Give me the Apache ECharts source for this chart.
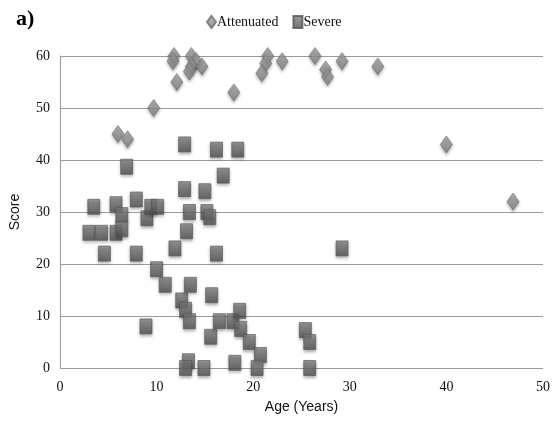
<!DOCTYPE html>
<html><head><meta charset="utf-8">
<script src="https://cdn.jsdelivr.net/npm/echarts@6/dist/echarts.min.js"></script>
<style>html,body{margin:0;padding:0;background:#fff}#c{width:557px;height:431px}</style>
</head><body><div id="c"></div>
<script>
const attenuatedAge   = [6.0,7.0,9.7,11.8,11.7,12.1,13.6,14.1,13.6,13.4,14.7,18.0,21.5,21.3,20.9,23.0,26.4,27.5,27.7,29.2,32.9,40.0,46.9];
const attenuatedScore = [45,44,50,60,59,55,60,59,58,57,58,53,60,58.6,56.7,59,60,57.4,56,59,58,43,32];
const severeAge   = [3.0,3.5,4.3,4.6,5.8,5.8,6.4,6.4,6.9,7.9,7.9,9.0,9.4,10.1,8.9,10.0,10.9,11.9,12.6,12.9,12.9,13.1,13.4,13.0,13.5,13.4,13.3,13.0,14.9,15.0,15.2,15.5,15.6,15.7,16.2,16.2,16.5,16.9,17.9,18.4,18.6,18.7,18.1,19.6,20.75,20.4,25.4,25.85,25.85,29.2];
const severeScore = [26,31,26,22,26,31.5,29.4,26.7,38.7,32.4,22,28.8,31,31,8,19,16,23,13,43,34.4,26.3,30,11.2,16,9,1.3,0,0,34,30,29,6,14,42,22,9,37,9,42,11,7.5,1,5,2.5,0,7.3,5,0,23];
const xTicks = [0,10,20,30,40,50];
const yTicks = [0,10,20,30,40,50,60];

const chart = echarts.init(document.getElementById('c'), null, {renderer:'canvas'});
const serif = "'Liberation Serif', 'DejaVu Serif', serif";
const sans = "'Liberation Sans Narrow', 'Liberation Sans', 'Open Sans', sans-serif";
const diamondFill = new echarts.graphic.LinearGradient(0,0,0,1,[{offset:0,color:'#a8a8a8'},{offset:1,color:'#7c7c7c'}]);
const squareFill = new echarts.graphic.LinearGradient(0,0,0,1,[{offset:0,color:'#858585'},{offset:1,color:'#4e4e4e'}]);
chart.setOption({
  animation:false,
  backgroundColor:'#fff',
  title:{text:'a)', left:11, top:3, textStyle:{fontFamily:serif, fontWeight:'bold', fontSize:22, color:'#000'}},
  legend:{
    top:10, left:201, itemGap:14, itemWidth:9, itemHeight:12,
    textStyle:{fontFamily:serif, fontSize:14, color:'#111', padding:[0,0,0,-4]},
    data:['Attenuated','Severe']
  },
  grid:{left:60, right:14, top:56, bottom:63},
  xAxis:{
    type:'value', min:0, max:50, interval:10,
    name:'Age (Years)', nameLocation:'middle', nameGap:32,
    nameTextStyle:{fontFamily:sans, fontSize:14, color:'#111'},
    axisLine:{show:false}, axisTick:{show:false},
    splitLine:{show:false},
    axisLabel:{fontFamily:serif, fontSize:14, color:'#111', margin:12}
  },
  yAxis:{
    type:'value', min:0, max:60, interval:10,
    name:'Score', nameLocation:'middle', nameGap:38, nameRotate:90,
    nameTextStyle:{fontFamily:sans, fontSize:14, color:'#111'},
    axisLine:{show:true, lineStyle:{color:'#9a9a9a', width:1}}, axisTick:{show:false},
    splitLine:{show:true, lineStyle:{color:'#9a9a9a', width:1.2}},
    axisLabel:{fontFamily:serif, fontSize:14, color:'#111', margin:10}
  },
  series:[
    {
      name:'Attenuated', type:'scatter', symbol:'diamond', symbolSize:[12,17],
      data: attenuatedAge.map((a,i)=>[a, attenuatedScore[i]]),
      itemStyle:{color:diamondFill, borderColor:'#6e6e6e', borderWidth:0.8, shadowBlur:3, shadowColor:'rgba(0,0,0,0.35)', shadowOffsetY:2}
    },
    {
      name:'Severe', type:'scatter', symbol:'rect', symbolSize:[12,15],
      data: severeAge.map((a,i)=>[a, severeScore[i]]),
      itemStyle:{color:squareFill, borderColor:'#555', borderWidth:0.8, shadowBlur:3, shadowColor:'rgba(0,0,0,0.4)', shadowOffsetY:2}
    }
  ]
});
</script></body></html>
